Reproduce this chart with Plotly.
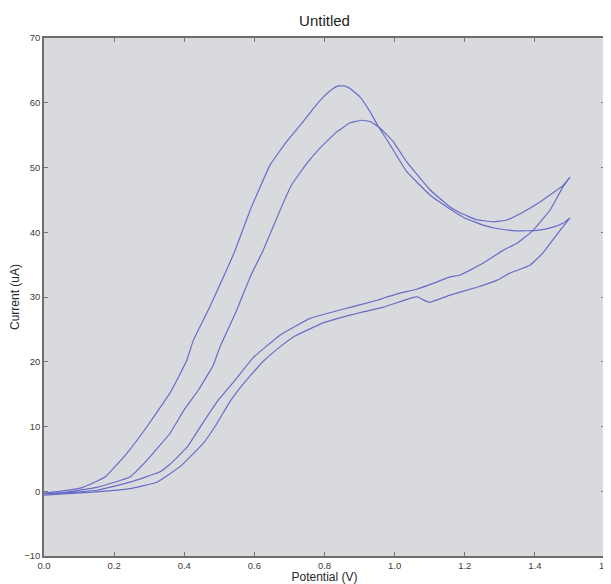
import plotly.graph_objects as go

# Cycle A: forward scan (oxidation peak) then reverse scan
a_fwd_x = [0.0, 0.054, 0.111, 0.174, 0.237, 0.294, 0.34, 0.364, 0.407, 0.426, 0.473, 0.521, 0.545, 0.588, 0.645, 0.692, 0.735, 0.768, 0.797, 0.82, 0.839, 0.856, 0.873, 0.901, 0.93, 0.954, 0.987, 1.034, 1.10, 1.158, 1.20, 1.252, 1.30, 1.349, 1.406, 1.452, 1.48, 1.5]
a_fwd_y = [-0.3, 0.05, 0.6, 2.2, 5.9, 10.0, 13.6, 15.6, 20.2, 23.3, 28.5, 34.2, 37.2, 43.4, 50.4, 54.0, 56.8, 59.1, 60.9, 62.0, 62.6, 62.6, 62.2, 60.9, 58.6, 56.3, 53.5, 49.4, 45.8, 43.6, 42.2, 41.1, 40.5, 40.2, 40.3, 40.8, 41.4, 42.2]
a_rev_x = [1.5, 1.472, 1.423, 1.386, 1.329, 1.292, 1.235, 1.158, 1.101, 1.08, 1.067, 1.044, 0.967, 0.91, 0.873, 0.796, 0.71, 0.673, 0.624, 0.58, 0.554, 0.53, 0.49, 0.454, 0.388, 0.322, 0.245, 0.151, 0.0]
a_rev_y = [42.2, 40.3, 36.8, 34.9, 33.7, 32.6, 31.5, 30.3, 29.2, 29.6, 30.0, 29.8, 28.4, 27.7, 27.2, 26.0, 23.8, 22.3, 20.0, 17.3, 15.6, 13.8, 10.2, 7.4, 3.8, 1.4, 0.4, -0.1, -0.6]

# Cycle B
b_fwd_x = [0.0, 0.054, 0.151, 0.245, 0.294, 0.36, 0.40, 0.44, 0.483, 0.502, 0.55, 0.588, 0.625, 0.682, 0.706, 0.749, 0.787, 0.835, 0.873, 0.906, 0.93, 0.958, 0.996, 1.034, 1.10, 1.158, 1.187, 1.23, 1.281, 1.32, 1.366, 1.41, 1.452, 1.48, 1.5]
b_fwd_y = [-0.4, -0.2, 0.6, 2.2, 4.8, 9.0, 12.6, 15.6, 19.5, 22.3, 28.0, 33.1, 37.2, 44.5, 47.3, 50.6, 53.0, 55.5, 56.9, 57.3, 57.1, 56.1, 54.0, 50.9, 46.6, 43.9, 43.0, 42.0, 41.6, 41.9, 43.1, 44.5, 46.1, 47.2, 48.5]
b_rev_x = [1.5, 1.48, 1.443, 1.395, 1.349, 1.309, 1.252, 1.187, 1.158, 1.11, 1.063, 1.015, 0.967, 0.95, 0.873, 0.759, 0.673, 0.596, 0.55, 0.521, 0.496, 0.45, 0.408, 0.36, 0.331, 0.245, 0.151, 0.054, 0.0]
b_rev_y = [48.5, 47.0, 43.4, 40.3, 38.3, 37.2, 35.2, 33.4, 33.1, 32.1, 31.2, 30.6, 29.8, 29.5, 28.4, 26.7, 24.1, 20.6, 17.5, 15.6, 14.0, 10.3, 6.8, 4.2, 3.0, 1.4, 0.15, -0.3, -0.4]

x_ticks = [0.0, 0.2, 0.4, 0.6, 0.8, 1.0, 1.2, 1.4, 1.6]
x_tick_labels = ["0.0", "0.2", "0.4", "0.6", "0.8", "1.0", "1.2", "1.4", "1.6"]
y_ticks = [-10, 0, 10, 20, 30, 40, 50, 60, 70]

line_color = "rgb(104,108,200)"
FONT = "Liberation Sans, Arial, sans-serif"
TICK_FONT = dict(family=FONT, size=9.5, color="rgb(60,60,60)")

fig = go.Figure()
for xs, ys in [(a_fwd_x + a_rev_x[1:], a_fwd_y + a_rev_y[1:]),
               (b_fwd_x + b_rev_x[1:], b_fwd_y + b_rev_y[1:])]:
    fig.add_trace(go.Scatter(x=xs, y=ys, mode="lines",
                             line=dict(color=line_color, width=1.2, shape="spline", smoothing=0.3),
                             showlegend=False, hoverinfo="skip"))

axis_common = dict(showgrid=False, zeroline=False, showline=True, linecolor="rgb(110,110,110)",
                   linewidth=1.5, mirror="ticks", ticks="inside", ticklen=4, tickwidth=1,
                   tickcolor="rgb(120,120,120)", automargin=False, tickfont=TICK_FONT)

# the last x tick label sits on the right edge of the page and is partly cut off there
shown_x_labels = x_tick_labels[:-1] + [""]
fig.add_annotation(x=x_ticks[-1], xref="x", y=0, yref="paper", yanchor="top", yshift=-2,
                   text=x_tick_labels[-1], showarrow=False, font=TICK_FONT)

# page body has an 8px default margin, so the figure is sized to fit inside it
fig.update_layout(
    width=603, height=576,
    margin=dict(l=36, r=6, t=30, b=28),
    paper_bgcolor="white",
    plot_bgcolor="rgb(217,218,222)",
    title=dict(text="Untitled", x=0.5, xref="paper", xanchor="center",
               y=1 - 13 / 576, yref="container", yanchor="middle",
               font=dict(family=FONT, size=15, color="rgb(30,30,30)")),
    xaxis=dict(range=[0, 1.6], tickvals=x_ticks, ticktext=shown_x_labels,
               title=dict(text="Potential (V)", standoff=4,
                          font=dict(family=FONT, size=12, color="rgb(40,40,40)")),
               **axis_common),
    yaxis=dict(range=[-10, 70], tickvals=y_ticks,
               title=dict(text="Current (uA)", standoff=4,
                          font=dict(family=FONT, size=12, color="rgb(40,40,40)")),
               **axis_common),
)

fig.write_html("out.html")
